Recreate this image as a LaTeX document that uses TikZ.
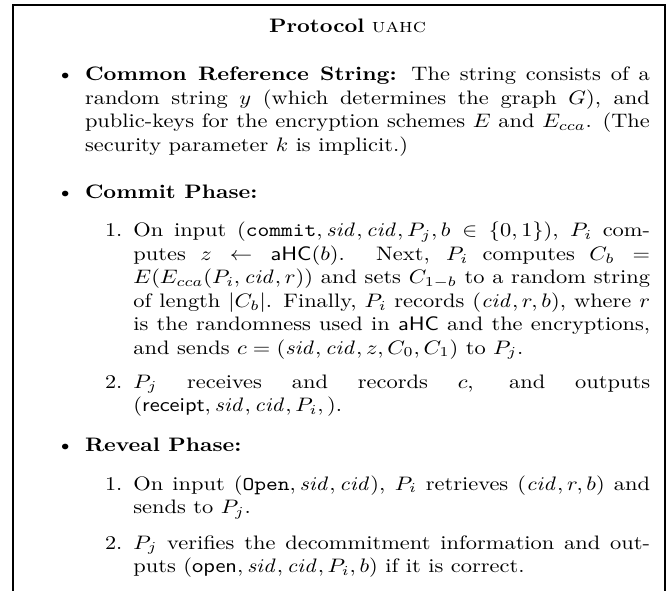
\documentclass[tikz,border=0pt]{standalone}
\usepackage{graphicx}
\newcommand{\sidv}{\mathit{sid}}
\newcommand{\cidv}{\mathit{cid}}
\newcommand{\hs}[1]{\scalebox{1.14}[1]{#1}}
\newcommand{\wpar}[2]{\scalebox{1.15}[1]{\parbox[t]{#1}{#2}}}
\begin{document}
\begin{tikzpicture}[x=0.5128pt,y=-0.5128pt,
  frame/.style={line width=1pt},
  para/.style={anchor=base west,inner sep=0pt,outer sep=0pt},
  lab/.style={anchor=base east,inner sep=0pt,outer sep=0pt}]
\useasboundingbox (0,0) rectangle (670,591);
\draw[frame] (13,592) -- (13,5) -- (665,5) -- (665,592);
\node[anchor=base,inner sep=0pt] (title) at (347.5,33) {\hs{\textbf{Protocol} \textsc{uahc}}};
% Common reference string
\node[lab] (b1) at (74,81) {\hs{\textbullet}};
\node[para] (crs) at (85,81) {\wpar{251.9pt}{\textbf{Common Reference String:} The string consists of a random string $y$ (which determines the graph $G$), and public-keys for the encryption schemes $E$ and $E_{cca}$. (The security parameter $k$ is implicit.)}};
% Commit phase
\node[lab] (b2) at (74,199) {\hs{\textbullet}};
\node[para] (cp) at (85,199) {\hs{\textbf{Commit Phase:}}};
\node[lab] (c1l) at (122.4,237) {\hs{1.}};
\node[para] (c1) at (133.4,237) {\wpar{230.4pt}{On input $(\texttt{commit}, \sidv, \cidv, P_j, b\in\{0,1\})$, $P_i$ computes $z \leftarrow \textsf{aHC}(b)$. Next, $P_i$ computes $C_b = E(E_{cca}(P_i, \cidv, r))$ and sets $C_{1-b}$ to a random string of length $|C_b|$. Finally, $P_i$ records $(\cidv, r, b)$, where $r$ is the randomness used in \textsf{aHC} and the encryptions, and sends $c = (\sidv, \cidv, z, C_0, C_1)$ to $P_j$.}};
\node[lab] (c2l) at (122.4,388) {\hs{2.}};
\node[para] (c2) at (133.4,388) {\wpar{230.4pt}{$P_j$ receives and records $c$, and outputs $(\textsf{receipt}, \sidv, \cidv, P_i, )$.}};
% Reveal phase
\node[lab] (b3) at (74,451) {\hs{\textbullet}};
\node[para] (rp) at (85,451) {\hs{\textbf{Reveal Phase:}}};
\node[lab] (r1l) at (122.4,490) {\hs{1.}};
\node[para] (r1) at (133.4,490) {\wpar{230.4pt}{On input $(\texttt{Open}, \sidv, \cidv)$, $P_i$ retrieves $(\cidv, r, b)$ and sends to $P_j$.}};
\node[lab] (r2l) at (122.4,549) {\hs{2.}};
\node[para] (r2) at (133.4,549) {\wpar{230.4pt}{$P_j$ verifies the decommitment information and outputs $(\textsf{open}, \sidv, \cidv, P_i, b)$ if it is correct.}};
\end{tikzpicture}
\end{document}
